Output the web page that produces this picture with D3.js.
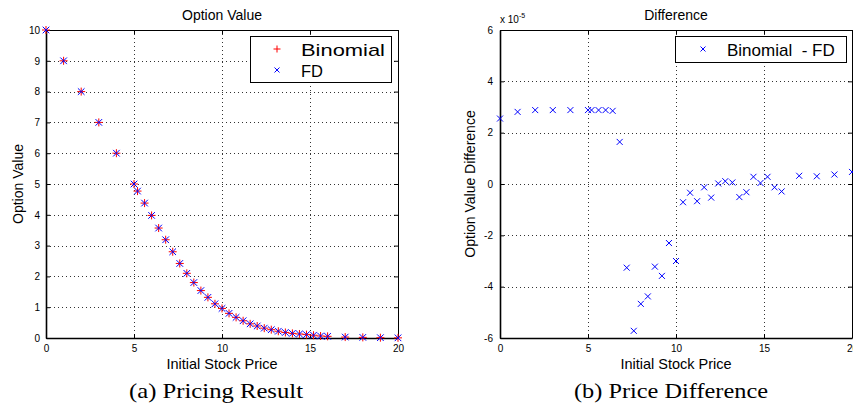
<!DOCTYPE html>
<html>
<head>
<meta charset="utf-8">
<script src="https://cdn.jsdelivr.net/npm/d3@7/dist/d3.min.js"></script>
<style>
  html, body { margin: 0; padding: 0; background: #fff; }
  svg { display: block; }
  text { font-family: "Liberation Sans", Arial, Helvetica, sans-serif; fill: #000; }
  text.caption { font-family: "Liberation Serif", "Times New Roman", serif; }
</style>
</head>
<body>
<svg id="chart" width="853" height="414"></svg>
<script>
// Initial stock prices used by both panels
const stockPrices = [0, 1, 2, 3, 4, 5, 5.2, 5.6, 6.0, 6.4, 6.8, 7.2, 7.6, 8.0, 8.4, 8.8,
  9.2, 9.6, 10.0, 10.4, 10.8, 11.2, 11.6, 12.0, 12.4, 12.8, 13.2, 13.6, 14.0, 14.4,
  14.8, 15.2, 15.6, 16.0, 17, 18, 19, 20];

// Option values from the binomial tree
const binomialValues = [10, 9, 8, 7, 6, 5, 4.77, 4.38, 3.98, 3.57, 3.19, 2.80, 2.42, 2.10,
  1.80, 1.54, 1.32, 1.11, 0.96, 0.80, 0.67, 0.56, 0.46, 0.39, 0.32, 0.27, 0.22, 0.18,
  0.15, 0.13, 0.11, 0.09, 0.065, 0.054, 0.03, 0.02, 0.01, 0.005];

// Option values from the finite-difference scheme
const fdValues = [10, 9, 8, 7, 6, 5, 4.77, 4.38, 3.98, 3.57, 3.19, 2.80, 2.42, 2.10,
  1.80, 1.54, 1.32, 1.11, 0.96, 0.80, 0.67, 0.56, 0.46, 0.39, 0.32, 0.27, 0.22, 0.18,
  0.15, 0.13, 0.11, 0.09, 0.065, 0.054, 0.03, 0.02, 0.01, 0.005];

// Binomial - FD, in units of 1e-5
const differenceValues = [2.55, 2.81, 2.88, 2.88, 2.88, 2.88, 2.88, 2.88, 2.88, 2.85, 1.64,
  -3.26, -5.72, -4.67, -4.38, -3.22, -3.58, -2.30, -3.00, -0.71, -0.34, -0.67, -0.13,
  -0.53, 0.02, 0.11, 0.06, -0.51, -0.32, 0.28, 0.04, 0.28, -0.13, -0.29, 0.32, 0.30,
  0.37, 0.47];

const xTicks = [0, 5, 10, 15, 20];
const leftYTicks = [0, 1, 2, 3, 4, 5, 6, 7, 8, 9, 10];
const rightYTicks = [-6, -4, -2, 0, 2, 4, 6];
const diffScale = 1e-5;

const svg = d3.select("#chart");
const plotTop = 30, plotBottom = 338, plotW = 352;

function panel(opts) {
  const g = svg.append("g");
  const x = d3.scaleLinear().domain([0, 20]).range([opts.left, opts.left + plotW]);
  const y = d3.scaleLinear().domain(opts.yDomain).range([plotBottom, plotTop]);

  // dotted grid
  const grid = g.append("g").attr("stroke", "#333").attr("stroke-width", 1)
    .attr("stroke-dasharray", "1,3").attr("shape-rendering", "crispEdges");
  xTicks.filter(t => t > 0 && t < 20).forEach(t => {
    grid.append("line").attr("x1", Math.round(x(t)) + 0.5).attr("x2", Math.round(x(t)) + 0.5)
      .attr("y1", plotTop).attr("y2", plotBottom);
  });
  opts.yTicks.filter(t => t > opts.yDomain[0] && t < opts.yDomain[1]).forEach(t => {
    grid.append("line").attr("y1", Math.round(y(t)) + 0.5).attr("y2", Math.round(y(t)) + 0.5)
      .attr("x1", opts.left).attr("x2", opts.left + plotW);
  });

  // axes with inward ticks on all four sides
  const tl = 4;
  const bottomAxis = d3.axisBottom(x).tickValues(xTicks).tickSizeInner(-tl).tickSizeOuter(0)
    .tickPadding(7).tickFormat(d3.format("d"));
  const topAxis = d3.axisTop(x).tickValues(xTicks).tickSizeInner(-tl).tickSizeOuter(0).tickFormat("");
  const leftAxis = d3.axisLeft(y).tickValues(opts.yTicks).tickSizeInner(-tl).tickSizeOuter(0)
    .tickPadding(opts.yPad).tickFormat(opts.yFormat);
  const rightAxis = d3.axisRight(y).tickValues(opts.yTicks).tickSizeInner(-tl).tickSizeOuter(0).tickFormat("");

  const styleAxis = (sel, w) => {
    sel.attr("font-family", null);
    sel.selectAll("path").attr("stroke", "#000").attr("stroke-width", w);
    sel.selectAll("line").attr("stroke", "#000");
    sel.selectAll("text").attr("font-size", 10).attr("fill", "#000");
  };
  g.append("g").attr("transform", `translate(0,${plotTop})`).call(topAxis).call(s => styleAxis(s, 1));
  g.append("g").attr("transform", `translate(${opts.left + plotW},0)`).call(rightAxis).call(s => styleAxis(s, 1));
  g.append("g").attr("transform", `translate(0,${plotBottom})`).call(bottomAxis).call(s => styleAxis(s, 1.6));
  g.append("g").attr("transform", `translate(${opts.left},0)`).call(leftAxis).call(s => styleAxis(s, 1.6));

  // title and axis labels
  const cx = opts.left + plotW / 2;
  g.append("text").attr("x", cx).attr("y", 20).attr("text-anchor", "middle")
    .attr("font-size", 14).text(opts.title);
  g.append("text").attr("x", cx).attr("y", 369).attr("text-anchor", "middle")
    .attr("font-size", 14.5).text("Initial Stock Price");
  g.append("text").attr("transform", `translate(${opts.yLabelX},${(plotTop + plotBottom) / 2}) rotate(-90)`)
    .attr("text-anchor", "middle").attr("font-size", 14).text(opts.yLabel);
  g.append("text").attr("class", "caption").attr("x", opts.captionX).attr("y", 398)
    .attr("text-anchor", "middle").attr("font-size", 21)
    .attr("textLength", opts.captionLen).attr("lengthAdjust", "spacingAndGlyphs")
    .text(opts.caption);

  return { g, x, y };
}

function plus(sel, cx, cy, r, color) {
  sel.append("path").attr("d", `M${cx - r},${cy}H${cx + r}M${cx},${cy - r}V${cy + r}`)
    .attr("stroke", color).attr("stroke-width", 1).attr("fill", "none");
}
function cross(sel, cx, cy, r, color) {
  sel.append("path").attr("d", `M${cx - r},${cy - r}L${cx + r},${cy + r}M${cx - r},${cy + r}L${cx + r},${cy - r}`)
    .attr("stroke", color).attr("stroke-width", 1).attr("fill", "none");
}

// Panel (a): option values
const a = panel({
  left: 46, yDomain: [0, 10], yTicks: leftYTicks, yPad: 6, yFormat: d3.format("d"),
  title: "Option Value", yLabel: "Option Value", yLabelX: 23,
  caption: "(a) Pricing Result", captionX: 216, captionLen: 174
});
const ma = a.g.append("g");
stockPrices.forEach((s, i) => plus(ma, a.x(s), a.y(binomialValues[i]), 4, "#ff0000"));
stockPrices.forEach((s, i) => cross(ma, a.x(s), a.y(fdValues[i]), 3.3, "#0000ff"));

// legend (a)
const la = a.g.append("g");
la.append("rect").attr("x", 250.5).attr("y", 36.5).attr("width", 141).attr("height", 46)
  .attr("fill", "#fff").attr("stroke", "#000").attr("stroke-width", 1);
plus(la, 277, 49, 3.5, "#ff0000");
cross(la, 277, 70, 2.5, "#0000ff");
la.append("text").attr("x", 301).attr("y", 55.5).attr("font-size", 17)
  .attr("textLength", 84).attr("lengthAdjust", "spacingAndGlyphs").text("Binomial");
la.append("text").attr("x", 301).attr("y", 76.5).attr("font-size", 17)
  .attr("textLength", 22).attr("lengthAdjust", "spacingAndGlyphs").text("FD");

// Panel (b): difference between the two methods
const fmtDiff = d => String(Math.round(d / diffScale));
const b = panel({
  left: 500, yDomain: [-6 * diffScale, 6 * diffScale],
  yTicks: rightYTicks.map(t => t * diffScale), yPad: 7, yFormat: fmtDiff,
  title: "Difference", yLabel: "Option Value Difference", yLabelX: 475,
  caption: "(b) Price Difference", captionX: 671, captionLen: 194
});
// exponent label
const expo = b.g.append("text").attr("x", 500).attr("y", 23).attr("font-size", 10);
expo.append("tspan").text("x 10");
expo.append("tspan").attr("dy", -5).attr("font-size", 7).text("-5");

const mb = b.g.append("g");
stockPrices.forEach((s, i) => cross(mb, b.x(s), b.y(differenceValues[i] * diffScale), 3, "#0000ff"));

// legend (b)
const lb = b.g.append("g");
lb.append("rect").attr("x", 675.5).attr("y", 36.5).attr("width", 171).attr("height", 26)
  .attr("fill", "#fff").attr("stroke", "#000").attr("stroke-width", 1);
cross(lb, 703, 49, 2.5, "#0000ff");
lb.append("text").attr("x", 727).attr("y", 55.5).attr("font-size", 17)
  .attr("xml:space", "preserve").style("white-space", "pre").text("Binomial  - FD");
</script>
</body>
</html>
